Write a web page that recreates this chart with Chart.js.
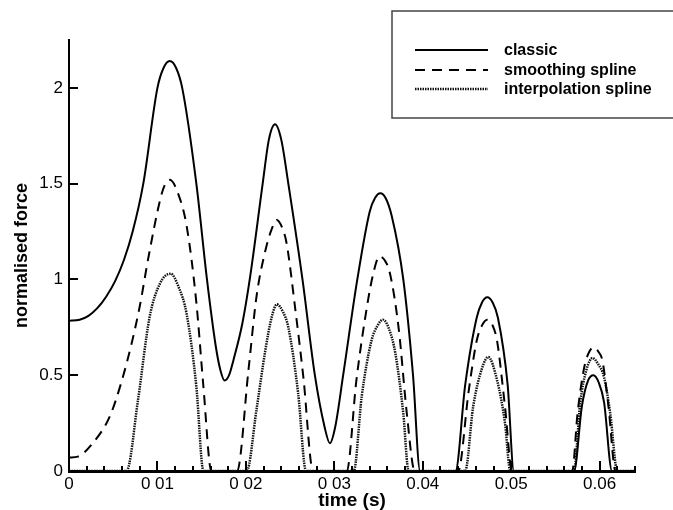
<!DOCTYPE html>
<html>
<head>
<meta charset="utf-8">
<script src="https://cdn.jsdelivr.net/npm/chart.js@4.4.1/dist/chart.umd.min.js"></script>
<style>
  html, body { margin: 0; padding: 0; background: #fff; }
  canvas { display: block; }
</style>
</head>
<body>
<canvas id="forceChart" width="673" height="510"></canvas>
<script>
// time (s) and normalised force
const classicTime = [0, 0.0012, 0.0022, 0.0032, 0.0042, 0.0052, 0.0062, 0.0072, 0.0084, 0.0100, 0.0107, 0.0114, 0.0121, 0.0128, 0.0144, 0.0156,
    0.0166, 0.0171, 0.0176, 0.0181, 0.0186, 0.0196, 0.0205, 0.0219, 0.0226, 0.0233, 0.0240, 0.0248, 0.0264, 0.0278, 0.0289, 0.0295,
    0.0301, 0.0310, 0.0326, 0.0340, 0.0346, 0.0352, 0.0358, 0.0365, 0.0378, 0.0389, 0.0397,
    0.0437, 0.0448, 0.0461, 0.0467, 0.0473, 0.0479, 0.0485, 0.0496, 0.0503,
    0.0571, 0.0580, 0.0587, 0.0593, 0.0599, 0.0605, 0.0614, 0.0640];
const classicForce = [0.785, 0.79, 0.81, 0.85, 0.91, 0.99, 1.10, 1.25, 1.5, 2.0, 2.105, 2.14, 2.105, 2.0, 1.5, 1.0,
    0.65, 0.53, 0.472, 0.50, 0.58, 0.77, 1.02, 1.5, 1.73, 1.81, 1.73, 1.5, 1.0, 0.5, 0.23, 0.145,
    0.23, 0.5, 1.0, 1.354, 1.425, 1.45, 1.425, 1.33, 1.0, 0.5, 0,
    0, 0.45, 0.80, 0.88, 0.907, 0.88, 0.80, 0.45, 0,
    0, 0.34, 0.473, 0.50, 0.462, 0.36, 0, 0];

const smoothTime = [0, 0.0010, 0.0027, 0.0046, 0.0059, 0.0071, 0.0080, 0.0090, 0.0103, 0.0108, 0.0114, 0.0124, 0.0133, 0.0144, 0.0152, 0.0161,
    0.0190, 0.0203, 0.0212, 0.0222, 0.0229, 0.0235, 0.0241, 0.0246, 0.0256, 0.0265, 0.0276,
    0.0314, 0.0325, 0.0337, 0.0344, 0.0351, 0.0357, 0.0363, 0.0373, 0.0382, 0.0391,
    0.0440, 0.0452, 0.0461, 0.0467, 0.0473, 0.0479, 0.0484, 0.0493, 0.0501,
    0.0569, 0.0575, 0.0582, 0.0587, 0.0593, 0.0599, 0.0603, 0.0610, 0.0618, 0.0640];
const smoothForce = [0.07, 0.075, 0.146, 0.284, 0.46, 0.67, 0.86, 1.12, 1.415, 1.49, 1.52, 1.44, 1.28, 0.88, 0.44, 0,
    0, 0.53, 0.91, 1.15, 1.26, 1.31, 1.27, 1.19, 0.84, 0.49, 0,
    0, 0.475, 0.86, 1.03, 1.12, 1.10, 1.03, 0.736, 0.30, 0,
    0, 0.42, 0.68, 0.76, 0.79, 0.76, 0.68, 0.336, 0,
    0, 0.30, 0.527, 0.61, 0.645, 0.62, 0.58, 0.336, 0, 0];

const interpTime = [0, 0.0065, 0.0078, 0.0091, 0.0103, 0.0115, 0.0124, 0.0133, 0.0144, 0.0152,
    0.0201, 0.0212, 0.0222, 0.0229, 0.0235, 0.0242, 0.0248, 0.0259, 0.0268,
    0.0322, 0.0331, 0.0342, 0.0349, 0.0355, 0.0362, 0.0369, 0.0378, 0.0384,
    0.0448, 0.0457, 0.0467, 0.0474, 0.0484, 0.0493, 0.0499,
    0.0571, 0.0578, 0.0585, 0.0592, 0.0598, 0.0605, 0.0612, 0.0620, 0.0640];
const interpForce = [0, 0, 0.37, 0.80, 0.98, 1.03, 0.96, 0.82, 0.44, 0,
    0, 0.32, 0.63, 0.80, 0.87, 0.83, 0.75, 0.41, 0,
    0, 0.39, 0.68, 0.76, 0.79, 0.74, 0.615, 0.30, 0,
    0, 0.336, 0.536, 0.595, 0.475, 0.25, 0,
    0, 0.354, 0.527, 0.59, 0.56, 0.49, 0.30, 0, 0];

const seriesNames = ['classic', 'smoothing spline', 'interpolation spline'];

const xTickValues = [0, 0.01, 0.02, 0.03, 0.04, 0.05, 0.06];
const xTickLabels = ['0', '0 01', '0 02', '0 03', '0.04', '0.05', '0.06'];
const yTickValues = [0, 0.5, 1, 1.5, 2];
const yTickLabels = ['0', '0.5', '1', '1.5', '2'];

function toPoints(times, values) {
    return times.map((t, i) => ({ x: t, y: values[i] }));
}

// ticks pointing into the plot, plus minor ticks on the time axis
const innerTicks = {
    id: 'innerTicks',
    afterDraw(chart) {
        const ctx = chart.ctx;
        const xs = chart.scales.x;
        const ys = chart.scales.y;
        const area = chart.chartArea;
        ctx.save();
        ctx.strokeStyle = '#000';
        ctx.lineWidth = 2;
        ctx.beginPath();
        for (let k = 0; k * 0.002 <= xs.max + 1e-9; k++) {
            const px = Math.round(xs.getPixelForValue(k * 0.002));
            const len = (k % 5 === 0) ? 10 : 5;
            ctx.moveTo(px, area.bottom);
            ctx.lineTo(px, area.bottom - len);
        }
        yTickValues.forEach(v => {
            const py = Math.round(ys.getPixelForValue(v));
            ctx.moveTo(area.left, py);
            ctx.lineTo(area.left + 9, py);
        });
        ctx.stroke();
        ctx.restore();
    }
};

// boxed legend in the top right corner
const boxLegend = {
    id: 'boxLegend',
    afterDraw(chart) {
        const ctx = chart.ctx;
        ctx.save();
        ctx.strokeStyle = '#444';
        ctx.lineWidth = 1.5;
        ctx.strokeRect(392, 11, 290, 107);
        ctx.font = 'bold 16px "Liberation Sans", Arial, sans-serif';
        ctx.textBaseline = 'middle';
        ctx.fillStyle = '#000';
        const rows = [50, 70, 89];
        chart.data.datasets.forEach((ds, i) => {
            ctx.strokeStyle = ds.borderColor;
            ctx.lineWidth = ds.borderWidth;
            ctx.setLineDash(ds.borderDash || []);
            ctx.beginPath();
            ctx.moveTo(415, rows[i]);
            ctx.lineTo(488, rows[i]);
            ctx.stroke();
            ctx.setLineDash([]);
            ctx.fillText(ds.label, 504, rows[i] + 1);
        });
        ctx.restore();
    }
};

const ctx = document.getElementById('forceChart').getContext('2d');
new Chart(ctx, {
    type: 'line',
    data: {
        datasets: [{
            label: seriesNames[0],
            data: toPoints(classicTime, classicForce),
            borderColor: '#000',
            borderWidth: 2,
            borderDash: [],
        }, {
            label: seriesNames[1],
            data: toPoints(smoothTime, smoothForce),
            borderColor: '#000',
            borderWidth: 2,
            borderDash: [10, 7],
        }, {
            label: seriesNames[2],
            data: toPoints(interpTime, interpForce),
            borderColor: '#111',
            borderWidth: 2.5,
            borderDash: [1.5, 1],
        }]
    },
    options: {
        responsive: false,
        animation: false,
        elements: {
            point: { radius: 0 },
            line: { cubicInterpolationMode: 'monotone', fill: false }
        },
        layout: { padding: { top: 40, right: 38, left: 0, bottom: 0 } },
        plugins: {
            legend: { display: false },
            tooltip: { enabled: false }
        },
        scales: {
            x: {
                type: 'linear',
                min: 0,
                max: 0.064,
                afterFit: scale => { scale.height = 39; },
                afterBuildTicks: scale => { scale.ticks = xTickValues.map(v => ({ value: v })); },
                grid: { display: false, drawTicks: false },
                border: { display: true, color: '#000', width: 3 },
                ticks: {
                    color: '#000',
                    padding: 3,
                    maxRotation: 0,
                    autoSkip: false,
                    font: { family: '"Liberation Sans", Arial, sans-serif', size: 17 },
                    callback: (v, i) => xTickLabels[i]
                },
                title: {
                    display: true,
                    text: 'time (s)',
                    color: '#000',
                    padding: { top: 0, bottom: 0 },
                    font: { family: '"Liberation Sans", Arial, sans-serif', size: 19, weight: 'bold', lineHeight: 1 }
                }
            },
            y: {
                min: 0,
                max: 2.25,
                afterFit: scale => { scale.width = 69; },
                afterBuildTicks: scale => { scale.ticks = yTickValues.map(v => ({ value: v })); },
                grid: { display: false, drawTicks: false },
                border: { display: true, color: '#000', width: 2 },
                ticks: {
                    color: '#000',
                    padding: 6,
                    autoSkip: false,
                    font: { family: '"Liberation Sans", Arial, sans-serif', size: 17 },
                    callback: (v, i) => yTickLabels[i]
                },
                title: {
                    display: true,
                    text: 'normalised force',
                    color: '#000',
                    padding: { top: 11, bottom: 0 },
                    font: { family: '"Liberation Sans", Arial, sans-serif', size: 18, weight: 'bold' }
                }
            }
        }
    },
    plugins: [innerTicks, boxLegend]
});
</script>
</body>
</html>
